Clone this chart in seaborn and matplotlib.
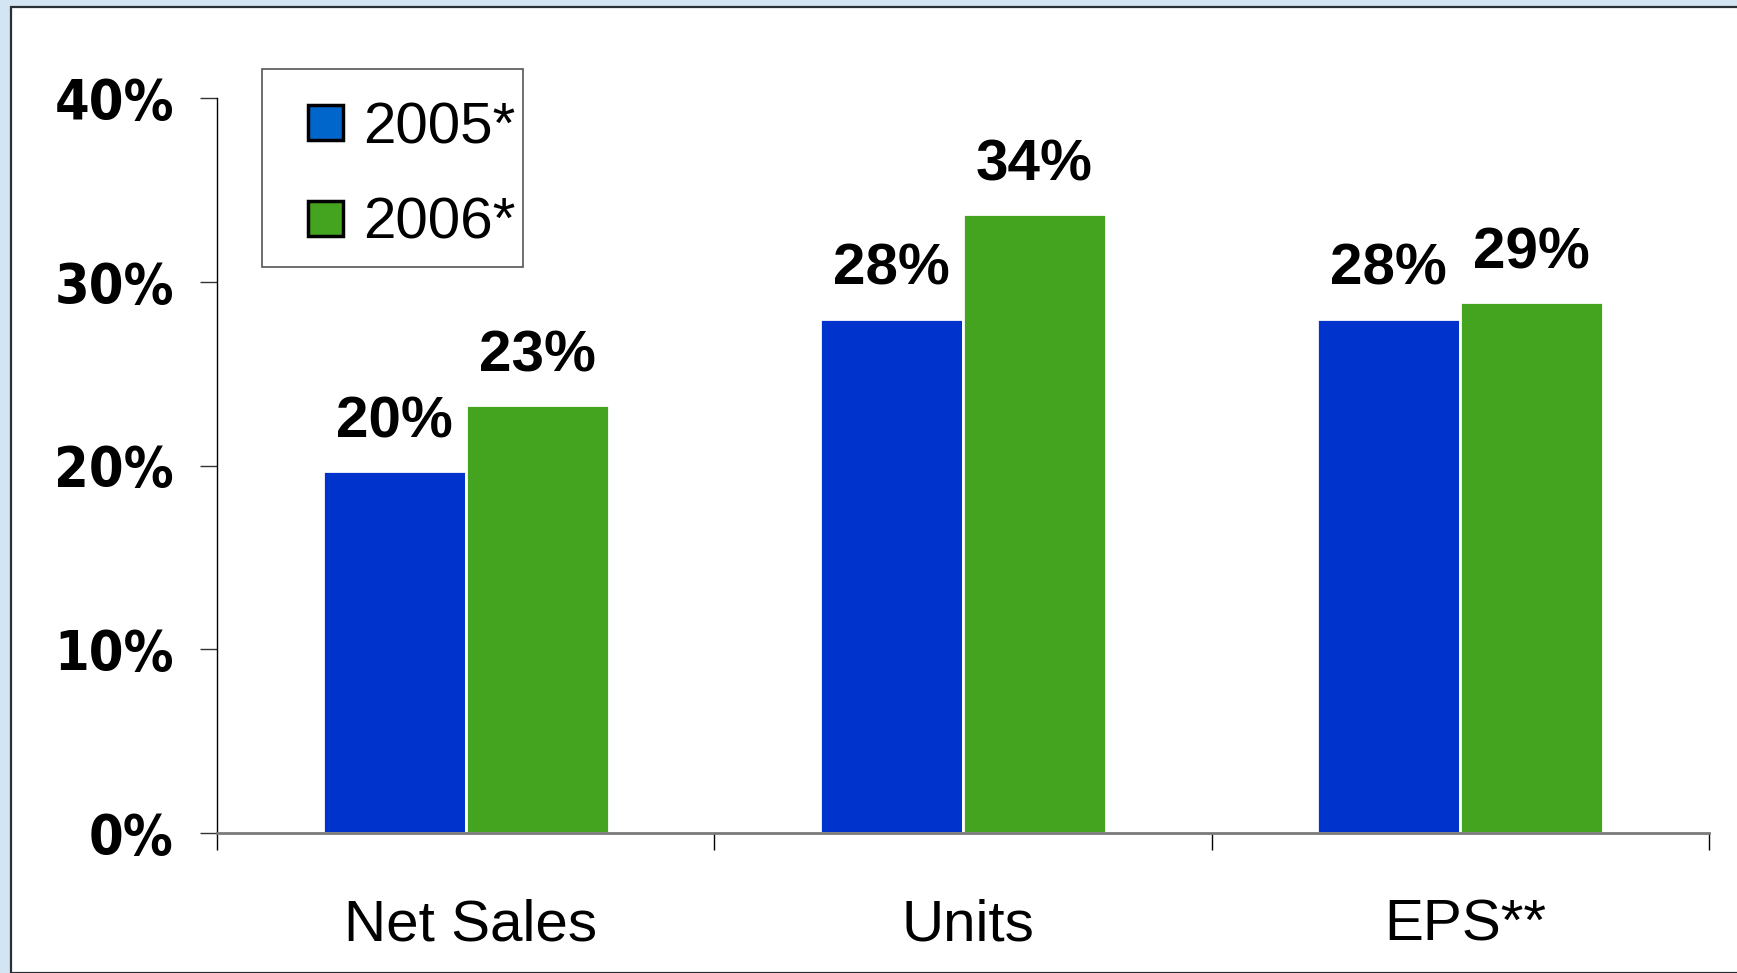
import matplotlib
matplotlib.use("Agg")
import matplotlib.pyplot as plt
from matplotlib.patches import Rectangle, Patch
from matplotlib.legend_handler import HandlerPatch
from matplotlib import font_manager
import seaborn as sns
import pandas as pd
import numpy as np

categories = ["Net Sales", "Units", "EPS**"]
years = ["2005*", "2006*"]
growth_2005 = [19.7, 28.0, 28.0]
growth_2006 = [23.3, 33.7, 28.9]
y_ticks = [0, 10, 20, 30, 40]
y_tick_labels = ["0%", "10%", "20%", "30%", "40%"]

bar_colors = ["#0033cc", "#44a41f"]
legend_colors = ["#0066cc", "#44a41f"]

df = pd.DataFrame({
    "category": categories * 2,
    "year": [years[0]] * 3 + [years[1]] * 3,
    "value": growth_2005 + growth_2006,
})

sns.set_style("white")
plt.rcParams["font.family"] = ["Liberation Sans", "DejaVu Sans"]
plt.rcParams["text.color"] = "black"
plt.rcParams["xtick.color"] = "black"
plt.rcParams["ytick.color"] = "black"

# a narrow bold face for the percentage axis, if one is installed
def _weight(w):
    if isinstance(w, str):
        return {"bold": 700, "heavy": 800, "black": 900, "semibold": 600,
                "demibold": 600, "extra bold": 800}.get(w.lower(), 400)
    return int(w)

narrow_bold = [f for f in font_manager.fontManager.ttflist
               if ("Narrow" in f.name or "Condensed" in f.name
                   or f.stretch in ("condensed", "semi-condensed", "extra-condensed"))
               and _weight(f.weight) >= 700 and f.style == "normal"]
narrow_bold.sort(key=lambda f: (0 if "Liberation" in f.name else 1, abs(_weight(f.weight) - 700)))
if narrow_bold:
    ytick_prop = font_manager.FontProperties(fname=narrow_bold[0].fname, size=40)
else:
    ytick_prop = font_manager.FontProperties(family="Liberation Sans", weight="bold", size=40)

W, H = 1737, 973
fig = plt.figure(figsize=(W / 100, H / 100), dpi=100, facecolor="#d3e5f3")

# white slide panel with a dark frame
fig.patches.append(Rectangle((11 / W, 0), (W - 11) / W + 0.01, (H - 7) / H,
                             transform=fig.transFigure, facecolor="white",
                             edgecolor="#2b2f36", linewidth=1.6, zorder=-5))

ax = fig.add_axes([217 / W, (H - 833) / H, (1709 - 217) / W, (833 - 98) / H])
ax.set_facecolor("none")

sns.barplot(data=df, x="category", y="value", hue="year", palette=bar_colors,
            width=0.575, edgecolor="white", linewidth=2, saturation=1,
            legend=False, ax=ax)

ax.set_xlim(-0.5, 2.5)
ax.set_ylim(0, 40)
ax.set_xlabel("")
ax.set_ylabel("")

# value labels above bars
for container in ax.containers:
    for rect in container:
        v = rect.get_height()
        ax.annotate(f"{v:.0f}%", (rect.get_x() + rect.get_width() / 2, v),
                    xytext=(0, 35), textcoords="offset points",
                    ha="center", va="center", fontsize=42, fontweight="bold",
                    color="black")

# axes styling
for s in ["top", "right"]:
    ax.spines[s].set_visible(False)
ax.spines["left"].set_color("black")
ax.spines["left"].set_linewidth(1.0)
ax.spines["bottom"].set_color("#7a7a7a")
ax.spines["bottom"].set_linewidth(2.0)

ax.set_yticks(y_ticks)
ax.set_yticklabels(y_tick_labels, fontproperties=ytick_prop)
ax.tick_params(axis="y", direction="out", length=12, width=1, color="#333333", pad=19, left=True)

ax.set_xticks(np.arange(len(categories)) + 0.01)
ax.set_xticklabels(categories, fontsize=42)
ax.set_xticks([-0.5, 0.5, 1.5, 2.5], minor=True)
ax.tick_params(axis="x", which="major", length=0, pad=47)
ax.tick_params(axis="x", which="minor", direction="out", length=12, width=1, color="black", bottom=True)


def square_patch(legend, orig_handle, xdescent, ydescent, width, height, fontsize):
    side = 0.6 * fontsize
    return Rectangle((width - side - xdescent, (height - side) / 2 - ydescent), side, side)


# legend frame
fig.patches.append(Rectangle((262 / W, 1 - 267 / H), (523 - 262) / W, (267 - 69) / H,
                             transform=fig.transFigure, facecolor="white",
                             edgecolor="#555555", linewidth=1.2, zorder=1))

handles = [Patch(facecolor=c, edgecolor="black", linewidth=2.5) for c in legend_colors]
leg = fig.legend(handles, years, loc="upper left",
                 bbox_to_anchor=(262 / W, 1 - 80 / H), bbox_transform=fig.transFigure,
                 fontsize=42, frameon=False,
                 handlelength=1.03, handleheight=0.8,
                 handler_map={Patch: HandlerPatch(patch_func=square_patch)},
                 handletextpad=0.35, labelspacing=0.7, borderpad=0.35, borderaxespad=0)
leg.set_zorder(6)
for t in leg.get_texts():
    t.set_color("black")

fig.savefig("out.png", dpi=100, facecolor=fig.get_facecolor())
